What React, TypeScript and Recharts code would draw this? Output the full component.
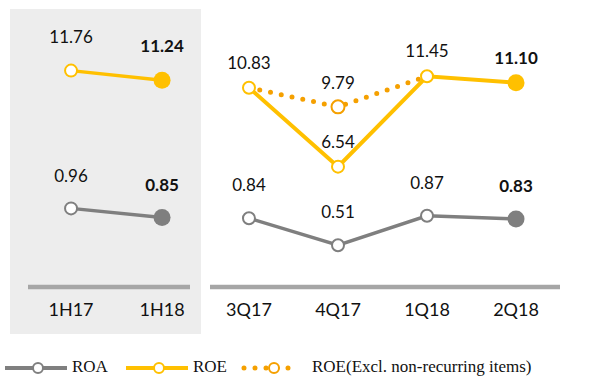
import React from 'react';
import { LineChart, Line, XAxis, YAxis, LabelList, Text } from 'recharts';

const halfYears = ['1H17', '1H18'];
const halfRoe = [11.76, 11.24];
const halfRoa = [0.96, 0.85];

const quarters = ['3Q17', '4Q17', '1Q18', '2Q18'];
const quarterRoe = [10.83, 6.54, 11.45, 11.1];
const quarterRoeExcl = [10.83, 9.79, 11.45, null];
const quarterRoa = [0.84, 0.51, 0.87, 0.83];

const legendItems = [
  { name: 'ROA', color: '#7f7f7f', dotted: false },
  { name: 'ROE', color: '#ffc000', dotted: false },
  { name: 'ROE(Excl. non-recurring items)', color: '#f5a000', dotted: true },
];

const ROE_COLOR = '#ffc000';
const ROA_COLOR = '#7f7f7f';
const EXCL_COLOR = '#f5a000';
const AXIS_COLOR = '#a6a6a6';
const LABEL_FONT = 'Lato, sans-serif';

const halfData = halfYears.map((label, i) => ({ idx: i, label, roe: halfRoe[i], roa: halfRoa[i] }));
const quarterData = quarters.map((label, i) => ({
  idx: i,
  label,
  roe: quarterRoe[i],
  roeExcl: quarterRoeExcl[i],
  roa: quarterRoa[i],
}));

const makeDot = (color: string, lastIdx: number) => (props: any) => {
  const { cx, cy, index } = props;
  if (cx == null || cy == null) return <g key={`d-${index}`} />;
  if (index === lastIdx) {
    return <circle key={`d-${index}`} cx={cx} cy={cy} r={8.5} fill={color} stroke="none" />;
  }
  return <circle key={`d-${index}`} cx={cx} cy={cy} r={6} fill="#fff" stroke={color} strokeWidth={2} />;
};

const exclDot = (props: any) => {
  const { cx, cy, index } = props;
  if (cx == null || cy == null || index !== 1) return <g key={`e-${index}`} />;
  return <circle key={`e-${index}`} cx={cx} cy={cy} r={6.5} fill="#fff" stroke={EXCL_COLOR} strokeWidth={2} />;
};

const makeLabel = (offset: number, lastIdx: number, only?: number) => (props: any) => {
  const { x, y, value, index } = props;
  if (value == null || (only != null && index !== only)) return null;
  return (
    <text
      key={`l-${index}`}
      x={x}
      y={y - offset + 6}
      textAnchor="middle"
      fontFamily={LABEL_FONT}
      fontSize={17}
      fontWeight={index === lastIdx ? 'bold' : 'normal'}
      fill="#111"
    >
      {Number(value).toFixed(2)}
    </text>
  );
};

const renderTick = (labels: string[]) => (props: any) => {
  const { x, y, payload } = props;
  return (
    <Text x={x} y={y} textAnchor="middle" verticalAnchor="start" fontFamily={LABEL_FONT} fontSize={18} fill="#111">
      {labels[payload.value]}
    </Text>
  );
};

export default function App() {
  return (
    <div style={{ position: 'absolute', left: 0, top: 0, width: 597, height: 376, background: '#fff' }}>
      <div style={{ position: 'absolute', left: 10, top: 9, width: 191, height: 325, background: '#ededed' }} />
      <div style={{ position: 'absolute', left: 0, top: 0 }}>
        <LineChart width={210} height={340} data={halfData} margin={{ top: 11, right: 20, left: 28, bottom: 23 }}>
          <XAxis
            dataKey="idx"
            type="number"
            domain={[-0.473, 1.307]}
            ticks={[0, 1]}
            tick={renderTick(halfYears)}
            tickLine={false}
            tickSize={0}
            tickMargin={16}
            height={30}
            axisLine={{ stroke: AXIS_COLOR, strokeWidth: 4.5 }}
          />
          <YAxis yAxisId="roe" hide domain={[0, 15]} />
          <YAxis yAxisId="roa" hide domain={[0, 3.37]} />
          <Line yAxisId="roa" dataKey="roa" stroke={ROA_COLOR} strokeWidth={3.5} dot={makeDot(ROA_COLOR, 1)} isAnimationActive={false}>
            <LabelList dataKey="roa" content={makeLabel(32, 1)} />
          </Line>
          <Line yAxisId="roe" dataKey="roe" stroke={ROE_COLOR} strokeWidth={3.5} dot={makeDot(ROE_COLOR, 1)} isAnimationActive={false}>
            <LabelList dataKey="roe" content={makeLabel(34, 1)} />
          </Line>
        </LineChart>
      </div>
      <div style={{ position: 'absolute', left: 200, top: 0 }}>
        <LineChart width={397} height={340} data={quarterData} margin={{ top: 11, right: 37, left: 10, bottom: 23 }}>
          <XAxis
            dataKey="idx"
            type="number"
            domain={[-0.438, 3.494]}
            ticks={[0, 1, 2, 3]}
            tick={renderTick(quarters)}
            tickLine={false}
            tickSize={0}
            tickMargin={16}
            height={30}
            axisLine={{ stroke: AXIS_COLOR, strokeWidth: 4.5 }}
          />
          <YAxis yAxisId="roe" hide domain={[0, 15]} />
          <YAxis yAxisId="roa" hide domain={[0, 3.37]} />
          <Line yAxisId="roa" dataKey="roa" stroke={ROA_COLOR} strokeWidth={3.5} dot={makeDot(ROA_COLOR, 3)} isAnimationActive={false}>
            <LabelList dataKey="roa" content={makeLabel(33, 3)} />
          </Line>
          <Line
            yAxisId="roe"
            dataKey="roeExcl"
            stroke={EXCL_COLOR}
            strokeWidth={5}
            strokeDasharray="0 11"
            strokeLinecap="round"
            dot={exclDot}
            isAnimationActive={false}
          >
            <LabelList dataKey="roeExcl" content={makeLabel(24, 3, 1)} />
          </Line>
          <Line yAxisId="roe" dataKey="roe" stroke={ROE_COLOR} strokeWidth={4} dot={makeDot(ROE_COLOR, 3)} isAnimationActive={false}>
            <LabelList dataKey="roe" content={makeLabel(25, 3)} />
          </Line>
        </LineChart>
      </div>
      <svg style={{ position: 'absolute', left: 0, top: 340 }} width={597} height={36}>
        {legendItems.map((item, i) => {
          const x0 = [5, 126, 244][i];
          const textX = [72, 193, 312][i];
          const cy = 28;
          return (
            <g key={item.name}>
              {item.dotted ? (
                <line
                  x1={x0}
                  y1={cy}
                  x2={x0 + 55}
                  y2={cy}
                  stroke={item.color}
                  strokeWidth={5}
                  strokeDasharray="0 11"
                  strokeLinecap="round"
                />
              ) : (
                <line x1={x0} y1={cy} x2={x0 + 62} y2={cy} stroke={item.color} strokeWidth={4} />
              )}
              <circle cx={item.dotted ? x0 + 30 : x0 + 33} cy={cy} r={5} fill="#fff" stroke={item.color} strokeWidth={2} />
              <text x={textX} y={cy + 4} fontFamily='"Liberation Serif", serif' fontSize={17} fill="#111">
                {item.name}
              </text>
            </g>
          );
        })}
      </svg>
    </div>
  );
}
